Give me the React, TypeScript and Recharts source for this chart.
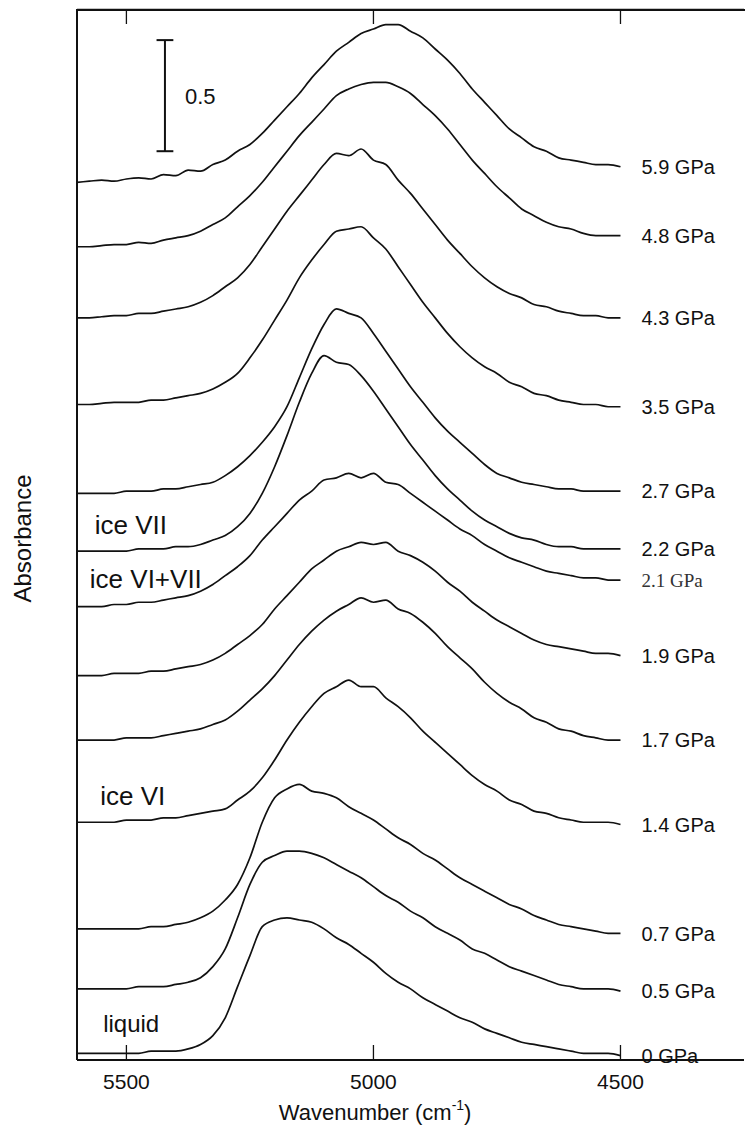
import React from 'react';
import { LineChart, Line, XAxis, YAxis, ReferenceLine, ReferenceDot } from 'recharts';

// Wavenumber grid (cm^-1)
const WAVENUMBERS = [5600, 5575, 5550, 5525, 5500, 5475, 5450, 5425, 5400, 5375, 5350, 5325, 5300, 5275, 5250, 5225, 5200, 5175, 5150, 5125, 5100, 5075, 5050, 5025, 5000, 4975, 4950, 4925, 4900, 4875, 4850, 4825, 4800, 4775, 4750, 4725, 4700, 4675, 4650, 4625, 4600, 4575, 4550, 4525, 4500];

const PRESSURES = ['5.9 GPa', '4.8 GPa', '4.3 GPa', '3.5 GPa', '2.7 GPa', '2.2 GPa', '2.1 GPa', '1.9 GPa', '1.7 GPa', '1.4 GPa', '0.7 GPa', '0.5 GPa', '0 GPa'];

// vertical offsets of each trace (absorbance)
const OFFSETS = [3.95, 3.66, 3.34, 2.95, 2.55, 2.29, 2.04, 1.73, 1.44, 1.07, 0.59, 0.32, 0.03];

// absorbance of each spectrum above its own baseline
const ABS_5_9 = [0, 0.005, 0.01, 0.005, 0.015, 0.02, 0.015, 0.035, 0.03, 0.055, 0.05, 0.08, 0.10, 0.14, 0.17, 0.22, 0.28, 0.34, 0.40, 0.47, 0.53, 0.59, 0.63, 0.67, 0.69, 0.71, 0.71, 0.68, 0.65, 0.60, 0.55, 0.49, 0.42, 0.36, 0.30, 0.24, 0.20, 0.16, 0.14, 0.11, 0.10, 0.09, 0.08, 0.08, 0.07];
const ABS_4_8 = [0, 0, 0.005, 0.01, 0.01, 0.02, 0.015, 0.03, 0.04, 0.05, 0.07, 0.10, 0.13, 0.18, 0.23, 0.29, 0.36, 0.43, 0.50, 0.56, 0.62, 0.68, 0.71, 0.73, 0.74, 0.74, 0.72, 0.69, 0.64, 0.59, 0.53, 0.46, 0.39, 0.33, 0.27, 0.22, 0.17, 0.14, 0.11, 0.09, 0.08, 0.06, 0.05, 0.05, 0.05];
const ABS_4_3 = [0, 0, 0.005, 0.01, 0.01, 0.02, 0.02, 0.03, 0.04, 0.05, 0.07, 0.10, 0.14, 0.18, 0.24, 0.32, 0.40, 0.48, 0.55, 0.62, 0.69, 0.74, 0.73, 0.76, 0.71, 0.69, 0.62, 0.56, 0.49, 0.42, 0.35, 0.29, 0.23, 0.18, 0.14, 0.11, 0.09, 0.06, 0.05, 0.03, 0.02, 0.01, 0.01, 0, 0];
const ABS_3_5 = [0, 0, 0.005, 0.01, 0.01, 0.01, 0.02, 0.02, 0.03, 0.04, 0.05, 0.07, 0.10, 0.14, 0.21, 0.29, 0.38, 0.47, 0.57, 0.65, 0.72, 0.78, 0.79, 0.80, 0.75, 0.70, 0.62, 0.54, 0.46, 0.39, 0.32, 0.26, 0.21, 0.17, 0.14, 0.10, 0.08, 0.05, 0.04, 0.02, 0.01, 0, 0, -0.01, -0.01];
const ABS_2_7 = [0, 0, 0, 0, 0.01, 0.01, 0.01, 0.02, 0.02, 0.03, 0.04, 0.05, 0.08, 0.12, 0.17, 0.23, 0.30, 0.39, 0.52, 0.65, 0.76, 0.83, 0.81, 0.79, 0.72, 0.64, 0.56, 0.48, 0.41, 0.34, 0.28, 0.23, 0.18, 0.13, 0.09, 0.07, 0.05, 0.04, 0.03, 0.02, 0.02, 0.01, 0.01, 0.01, 0.01];
const ABS_2_2 = [0, 0, 0, 0, 0, 0.01, 0.01, 0.01, 0.02, 0.02, 0.03, 0.05, 0.07, 0.11, 0.17, 0.26, 0.38, 0.52, 0.67, 0.80, 0.88, 0.85, 0.84, 0.79, 0.72, 0.64, 0.56, 0.48, 0.41, 0.34, 0.28, 0.23, 0.18, 0.14, 0.11, 0.08, 0.06, 0.05, 0.03, 0.02, 0.02, 0.01, 0.01, 0.01, 0.01];
const ABS_2_1 = [0, 0, 0, 0.01, 0.01, 0.02, 0.02, 0.03, 0.04, 0.05, 0.07, 0.10, 0.14, 0.18, 0.23, 0.30, 0.36, 0.42, 0.48, 0.52, 0.57, 0.58, 0.60, 0.58, 0.60, 0.56, 0.55, 0.51, 0.47, 0.43, 0.39, 0.35, 0.32, 0.28, 0.25, 0.22, 0.20, 0.18, 0.16, 0.15, 0.14, 0.13, 0.13, 0.12, 0.12];
const ABS_1_9 = [0, 0, 0, 0.01, 0.01, 0.01, 0.02, 0.02, 0.03, 0.04, 0.05, 0.07, 0.10, 0.14, 0.18, 0.23, 0.30, 0.36, 0.42, 0.48, 0.52, 0.56, 0.58, 0.60, 0.59, 0.60, 0.56, 0.54, 0.51, 0.47, 0.42, 0.38, 0.33, 0.29, 0.25, 0.22, 0.19, 0.16, 0.14, 0.13, 0.12, 0.11, 0.10, 0.10, 0.09];
const ABS_1_7 = [0, 0, 0, 0, 0.01, 0.01, 0.01, 0.02, 0.03, 0.04, 0.05, 0.07, 0.09, 0.13, 0.18, 0.23, 0.29, 0.36, 0.43, 0.49, 0.54, 0.58, 0.61, 0.64, 0.62, 0.63, 0.59, 0.57, 0.53, 0.48, 0.42, 0.37, 0.32, 0.26, 0.21, 0.17, 0.14, 0.10, 0.08, 0.05, 0.04, 0.02, 0.01, 0, 0];
const ABS_1_4 = [0, 0, 0, 0, 0.01, 0.01, 0.01, 0.02, 0.02, 0.03, 0.04, 0.05, 0.06, 0.10, 0.14, 0.20, 0.28, 0.37, 0.45, 0.52, 0.58, 0.61, 0.64, 0.61, 0.61, 0.56, 0.52, 0.47, 0.41, 0.36, 0.31, 0.26, 0.21, 0.17, 0.14, 0.10, 0.08, 0.05, 0.04, 0.02, 0.01, 0, 0, 0, -0.01];
const ABS_0_7 = [0, 0, 0, 0, 0, 0, 0.01, 0.01, 0.02, 0.03, 0.05, 0.08, 0.13, 0.20, 0.32, 0.48, 0.59, 0.63, 0.65, 0.62, 0.61, 0.59, 0.55, 0.52, 0.49, 0.45, 0.41, 0.38, 0.34, 0.31, 0.27, 0.23, 0.20, 0.17, 0.14, 0.11, 0.09, 0.06, 0.04, 0.02, 0.01, 0, -0.01, -0.02, -0.02];
const ABS_0_5 = [0, 0, 0, 0, 0, 0.01, 0.01, 0.01, 0.02, 0.03, 0.05, 0.10, 0.18, 0.32, 0.47, 0.57, 0.60, 0.62, 0.62, 0.61, 0.59, 0.56, 0.53, 0.50, 0.46, 0.42, 0.39, 0.35, 0.32, 0.28, 0.25, 0.22, 0.18, 0.16, 0.13, 0.10, 0.08, 0.06, 0.04, 0.02, 0.01, 0, 0, 0, -0.01];
const ABS_0_0 = [0, 0, 0, 0, 0, 0, 0.01, 0.01, 0.01, 0.02, 0.04, 0.08, 0.16, 0.30, 0.44, 0.57, 0.60, 0.61, 0.60, 0.59, 0.56, 0.52, 0.49, 0.45, 0.41, 0.36, 0.32, 0.29, 0.25, 0.22, 0.19, 0.16, 0.14, 0.11, 0.09, 0.07, 0.05, 0.04, 0.03, 0.02, 0.01, 0, 0, 0, -0.01];

const SPECTRA = [ABS_5_9, ABS_4_8, ABS_4_3, ABS_3_5, ABS_2_7, ABS_2_2, ABS_2_1, ABS_1_9, ABS_1_7, ABS_1_4, ABS_0_7, ABS_0_5, ABS_0_0];

const X_TICKS = [5500, 5000, 4500];
const X_DOMAIN: [number, number] = [4250, 5600];
const Y_DOMAIN: [number, number] = [0, 4.73];
const SCALE_BAR = { w: 5422, from: 4.09, size: 0.5, label: '0.5' };
const PHASES = [
  { text: 'ice VII', w: 5564, a: 2.41, size: 26 },
  { text: 'ice VI+VII', w: 5574, a: 2.165, size: 26 },
  { text: 'ice VI', w: 5553, a: 1.19, size: 26 },
  { text: 'liquid', w: 5547, a: 0.167, size: 24 },
];

const FONT = '"Liberation Sans", Arial, Helvetica, sans-serif';
const SERIF = '"Liberation Serif", "Times New Roman", serif';
const INK = '#111';
const TICK_LEN = 0.0675;
const CAP = 17;

const data = WAVENUMBERS.map((w, i) => {
  const row: Record<string, number> = { w };
  SPECTRA.forEach((s, k) => {
    row['s' + k] = +(OFFSETS[k] + s[i]).toFixed(4);
  });
  return row;
});

const last = WAVENUMBERS.length - 1;

function textLabel(text: string, size: number, dx: number, family = FONT, fill = INK) {
  return (props: any) => {
    const vb = props.viewBox ?? {};
    const x = (vb.x ?? props.x ?? 0) + (vb.width ?? 0) / 2 + dx;
    const y = (vb.y ?? props.y ?? 0) + (vb.height ?? 0) / 2;
    return (
      <text x={x} y={y} dy="0.36em" textAnchor="start" fontSize={size} fontFamily={family} fill={fill}>
        {text}
      </text>
    );
  };
}

const renderTitle = (props: any) => {
  const vb = props.viewBox ?? { x: 77, y: 1060, width: 667 };
  const cx = vb.x + vb.width * 0.447;
  return (
    <text x={cx} y={vb.y + 52} dy="0.36em" textAnchor="middle" fontSize={22} fontFamily={FONT} fill={INK}>
      Wavenumber (cm
      <tspan dy={-10} fontSize={14}>-1</tspan>
      <tspan dy={10}>)</tspan>
    </text>
  );
};

const renderYTitle = (props: any) => {
  const vb = props.viewBox ?? { x: 0, y: 9, width: 77, height: 1051 };
  const cy = vb.y + vb.height / 2 + 4;
  return (
    <text transform={`translate(22, ${cy}) rotate(-90)`} textAnchor="middle" dy="0.36em" fontSize={24} fontFamily={FONT} fill={INK}>
      Absorbance
    </text>
  );
};

export default function App() {
  return (
    <div style={{ position: 'absolute', left: 0, top: 0, width: 745, height: 1132, background: '#fff' }}>
      <LineChart width={745} height={1132} data={data} margin={{ top: 9, right: 1, bottom: 0, left: 0 }} style={{ fontFamily: FONT }}>
        <XAxis
          dataKey="w"
          type="number"
          domain={X_DOMAIN}
          reversed
          allowDataOverflow
          ticks={X_TICKS}
          tickLine={false}
          axisLine={{ stroke: INK, strokeWidth: 2 }}
          tick={{ fontSize: 21, fill: INK, fontFamily: FONT }}
          tickMargin={8}
          height={72}
          label={{ content: renderTitle }}
        />
        <YAxis
          type="number"
          domain={Y_DOMAIN}
          allowDataOverflow
          width={77}
          tick={false}
          tickLine={false}
          axisLine={{ stroke: INK, strokeWidth: 2 }}
          label={{ content: renderYTitle }}
        />
        <ReferenceLine
          segment={[{ x: X_DOMAIN[1], y: Y_DOMAIN[1] - 0.003 }, { x: X_DOMAIN[0], y: Y_DOMAIN[1] - 0.003 }]}
          ifOverflow="visible"
          stroke={INK}
          strokeWidth={2}
        />
        {X_TICKS.map((t) => (
          <ReferenceLine key={'bt' + t} segment={[{ x: t, y: Y_DOMAIN[0] }, { x: t, y: Y_DOMAIN[0] + TICK_LEN }]} ifOverflow="visible" stroke={INK} strokeWidth={1.3} />
        ))}
        {X_TICKS.map((t) => (
          <ReferenceLine key={'tt' + t} segment={[{ x: t, y: Y_DOMAIN[1] }, { x: t, y: Y_DOMAIN[1] - TICK_LEN }]} ifOverflow="visible" stroke={INK} strokeWidth={1.3} />
        ))}
        <ReferenceLine segment={[{ x: SCALE_BAR.w, y: SCALE_BAR.from }, { x: SCALE_BAR.w, y: SCALE_BAR.from + SCALE_BAR.size }]} stroke={INK} strokeWidth={2} />
        <ReferenceLine segment={[{ x: SCALE_BAR.w + CAP, y: SCALE_BAR.from }, { x: SCALE_BAR.w - CAP, y: SCALE_BAR.from }]} stroke={INK} strokeWidth={2} />
        <ReferenceLine segment={[{ x: SCALE_BAR.w + CAP, y: SCALE_BAR.from + SCALE_BAR.size }, { x: SCALE_BAR.w - CAP, y: SCALE_BAR.from + SCALE_BAR.size }]} stroke={INK} strokeWidth={2} />
        <ReferenceDot x={SCALE_BAR.w} y={SCALE_BAR.from + SCALE_BAR.size / 2} r={0} fill="none" stroke="none" label={{ content: textLabel(SCALE_BAR.label, 22, 20) }} />
        {PHASES.map((p) => (
          <ReferenceDot key={p.text} x={p.w} y={p.a} r={0} fill="none" stroke="none" label={{ content: textLabel(p.text, p.size, 0) }} />
        ))}
        {SPECTRA.map((s, k) => (
          <Line
            key={'s' + k}
            dataKey={'s' + k}
            type="monotone"
            stroke={INK}
            strokeWidth={1.7}
            dot={false}
            activeDot={false}
            isAnimationActive={false}
          />
        ))}
        {SPECTRA.map((s, k) => (
          <ReferenceDot
            key={'lab' + k}
            x={WAVENUMBERS[last]}
            y={OFFSETS[k] + s[last]}
            r={0}
            fill="none"
            stroke="none"
            label={{
              content: PRESSURES[k] === '2.1 GPa'
                ? textLabel(PRESSURES[k], 19, 21, SERIF, '#333')
                : textLabel(PRESSURES[k], 20, 21),
            }}
          />
        ))}
      </LineChart>
      <div style={{ position: 'absolute', left: 77, top: 9, width: 668, height: 0, borderTop: `2px solid ${INK}`, pointerEvents: 'none' }} />
    </div>
  );
}
